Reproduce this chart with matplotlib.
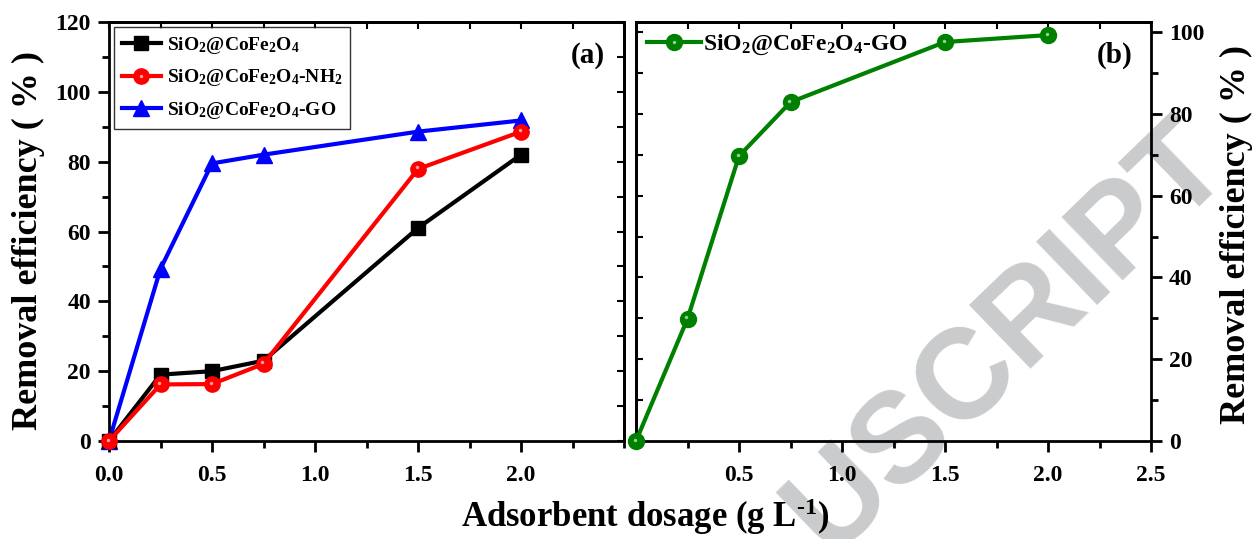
import matplotlib
matplotlib.use("Agg")
import matplotlib.pyplot as plt
from matplotlib.lines import Line2D
from matplotlib.legend_handler import HandlerTuple
import matplotlib.transforms as mtransforms
import numpy as np

plt.rcParams['font.family'] = ['Liberation Serif', 'DejaVu Serif']
plt.rcParams['font.weight'] = 'bold'
plt.rcParams['mathtext.fontset'] = 'custom'
plt.rcParams['mathtext.rm'] = 'Liberation Serif:bold'
plt.rcParams['mathtext.bf'] = 'Liberation Serif:bold'
plt.rcParams['mathtext.it'] = 'Liberation Serif:bold'
plt.rcParams['mathtext.default'] = 'rm'

# ---------------- data ----------------
dosage = [0.0, 0.25, 0.5, 0.75, 1.5, 2.0]
eff_sio2_cofe2o4 = [0.0, 19.0, 20.0, 23.0, 61.0, 82.0]
eff_sio2_cofe2o4_nh2 = [0.0, 16.2, 16.3, 22.1, 77.9, 88.6]
eff_sio2_cofe2o4_go = [0.0, 49.3, 79.5, 82.0, 88.6, 91.8]
eff_b_go = [0.0, 29.9, 69.7, 82.9, 97.6, 99.3]

label_a1 = r'SiO$_2$@CoFe$_2$O$_4$'
label_a2 = r'SiO$_2$@CoFe$_2$O$_4$-NH$_2$'
label_a3 = r'SiO$_2$@CoFe$_2$O$_4$-GO'
label_b = r'SiO$_2$@CoFe$_2$O$_4$-GO'

xticks_a = [0.0, 0.5, 1.0, 1.5, 2.0]
xticks_b = [0.5, 1.0, 1.5, 2.0, 2.5]
yticks_a = [0, 20, 40, 60, 80, 100, 120]
yticks_b = [0, 20, 40, 60, 80, 100]

W, H = 1255, 539
fig = plt.figure(figsize=(W / 100, H / 100), dpi=100)

def px_rect(x0, y0, x1, y1):
    return [x0 / W, 1 - y1 / H, (x1 - x0) / W, (y1 - y0) / H]

ax1 = fig.add_axes(px_rect(109, 22, 624, 441))
ax2 = fig.add_axes(px_rect(636, 22, 1151, 441))
for ax in (ax1, ax2):
    ax.set_facecolor('none')
    for s in ax.spines.values():
        s.set_linewidth(2.0)

# watermark (partially visible, as in the reference)
fig.text(1008 / W, 1 - 338 / H, 'USCRIPT', family='Liberation Sans',
         weight='bold', fontsize=92, color='#cacbcd', rotation=44,
         ha='center', va='center', rotation_mode='anchor', zorder=-5)

LW = 3.0

def highlight(ax, x, y, color, ms):
    off = mtransforms.offset_copy(ax.transData, fig=fig, x=-1.5, y=1.5, units='dots')
    ax.plot(x, y, linestyle='none', marker='o', ms=ms, color=color,
            mec='none', transform=off, zorder=5, clip_on=False)

# -------- panel (a) --------
l1, = ax1.plot(dosage, eff_sio2_cofe2o4, color='black', lw=LW, marker='s', ms=10,
               clip_on=False, zorder=3)
l2, = ax1.plot(dosage, eff_sio2_cofe2o4_nh2, color='#ff0000', lw=LW, marker='o', ms=11,
               clip_on=False, zorder=4)
highlight(ax1, dosage, eff_sio2_cofe2o4_nh2, '#ffa0a0', 2.5)
l3, = ax1.plot(dosage, eff_sio2_cofe2o4_go, color='#0000ff', lw=LW, marker='^', ms=12,
               clip_on=False, zorder=2)

ax1.set_xlim(0, 2.5)
ax1.set_ylim(0, 120)
ax1.set_xticks(xticks_a)
ax1.set_xticklabels(['%.1f' % v for v in xticks_a])
ax1.set_xticks(np.arange(0, 2.51, 0.25), minor=True)
ax1.set_yticks(yticks_a)
ax1.set_yticks(np.arange(0, 121, 10), minor=True)
ax1.tick_params(which='major', direction='out', length=8, width=2, labelsize=17, pad=5)
ax1.tick_params(which='minor', direction='out', length=5, width=2)
ax1.tick_params(axis='x', pad=9)
sec = ax1.secondary_xaxis('top')
sec.set_xticks(np.arange(0, 2.51, 0.25))
sec.tick_params(direction='in', length=5, width=1.5, labeltop=False)
sec.spines['top'].set_linewidth(2.0)
sec = ax1.secondary_yaxis('right')
sec.set_yticks(np.arange(0, 121, 10))
sec.tick_params(direction='in', length=5, width=1.5, labelright=False)
sec.spines['right'].set_linewidth(2.0)

h2 = (l2, Line2D([], [], linestyle='none', marker='o', ms=2.5, color='#ffa0a0', mec='none'))
leg = ax1.legend([l1, h2, l3], [label_a1, label_a2, label_a3], loc='upper left',
                 bbox_to_anchor=(0.01, 0.988), fontsize=14, frameon=True, fancybox=False,
                 edgecolor='black', handlelength=2.0, handletextpad=0.3,
                 labelspacing=0.6, borderpad=0.4, borderaxespad=0.0,
                 handler_map={tuple: HandlerTuple(ndivide=1)})
leg.get_frame().set_linewidth(1.0)
ax1.text(0.93, 0.92, '(a)', transform=ax1.transAxes, fontsize=21, ha='center', va='center')

# -------- panel (b) --------
lb, = ax2.plot(dosage, eff_b_go, color='#008000', lw=LW, marker='o', ms=11.5,
               clip_on=False, zorder=3)
highlight(ax2, dosage, eff_b_go, '#90d090', 2.5)
ax2.set_xlim(0, 2.5)
ax2.set_ylim(0, 102.5)
ax2.set_xticks(xticks_b)
ax2.set_xticklabels(['%.1f' % v for v in xticks_b])
ax2.set_xticks(np.arange(0, 2.51, 0.25), minor=True)
ax2.yaxis.tick_right()
ax2.set_yticks(yticks_b)
ax2.set_yticks(np.arange(0, 101, 10), minor=True)
ax2.tick_params(which='major', direction='out', length=8, width=2, labelsize=17, pad=5)
ax2.tick_params(which='minor', direction='out', length=5, width=2)
ax2.tick_params(axis='x', pad=9)
sec = ax2.secondary_xaxis('top')
sec.set_xticks(np.arange(0, 2.51, 0.25))
sec.tick_params(direction='in', length=5, width=1.5, labeltop=False)
sec.spines['top'].set_linewidth(2.0)
sec = ax2.secondary_yaxis('left')
sec.set_yticks(np.arange(0, 101, 10))
sec.tick_params(direction='in', length=5, width=1.5, labelleft=False)
sec.spines['left'].set_linewidth(2.0)

hb = (lb, Line2D([], [], linestyle='none', marker='o', ms=2.5, color='#90d090', mec='none'))
ax2.legend([hb], [label_b], loc='upper left', bbox_to_anchor=(0.0, 1.0), fontsize=17,
           frameon=False, handlelength=2.3, handletextpad=0.1, borderpad=0.3,
           borderaxespad=0.15, handler_map={tuple: HandlerTuple(ndivide=1)})
ax2.text(0.93, 0.92, '(b)', transform=ax2.transAxes, fontsize=21, ha='center', va='center')

# -------- axis titles --------
fig.text(28 / W, 1 - 241 / H, 'Removal efficiency ( % )', rotation=90, fontsize=26,
         ha='center', va='center')
fig.text(1236 / W, 1 - 235 / H, 'Removal efficiency ( % )', rotation=90, fontsize=26,
         ha='center', va='center')
fig.text(645 / W, 1 - 517 / H, r'Adsorbent dosage (g L$^{\text{-1}}$)', fontsize=25,
         ha='center', va='center')

fig.savefig('out.png', dpi=100)
